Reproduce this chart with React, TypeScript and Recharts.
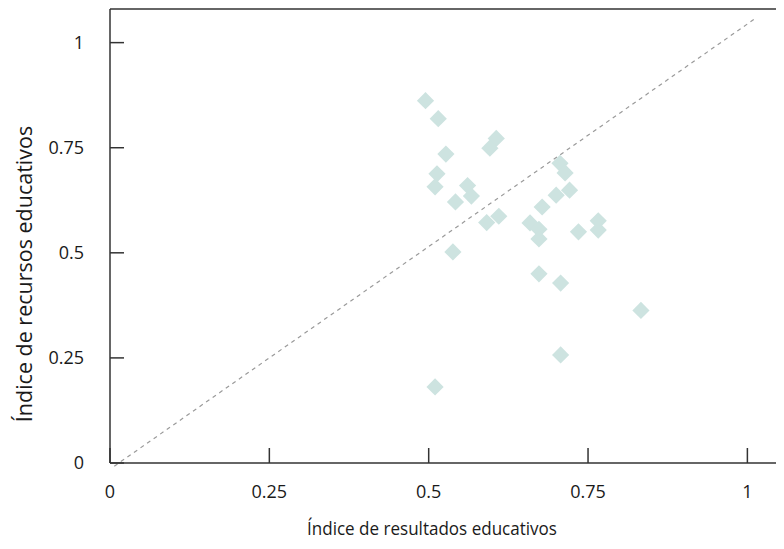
import { ScatterChart, Scatter, XAxis, YAxis, ReferenceLine } from 'recharts';

// Índice de resultados educativos (eje X) y de recursos educativos (eje Y)
const resultados = [
  0.495, 0.515, 0.527, 0.513, 0.51, 0.542, 0.561, 0.567, 0.606, 0.596, 0.591, 0.61, 0.538,
  0.706, 0.714, 0.721, 0.7, 0.678, 0.659, 0.673, 0.673, 0.735, 0.766, 0.766, 0.673, 0.707,
  0.833, 0.707, 0.51,
];
const recursos = [
  0.862, 0.819, 0.735, 0.688, 0.657, 0.621, 0.66, 0.635, 0.772, 0.749, 0.572, 0.587, 0.502,
  0.713, 0.69, 0.649, 0.637, 0.609, 0.571, 0.556, 0.533, 0.55, 0.576, 0.554, 0.45, 0.428,
  0.363, 0.257, 0.181,
];
const ticksX = [0, 0.25, 0.5, 0.75, 1];
const ticksY = [0, 0.25, 0.5, 0.75, 1];
// línea de referencia discontinua
const diagonal = [
  { x: 0.0067, y: -0.0076 },
  { x: 1.011, y: 1.056 },
];

const puntos = resultados.map((x, i) => ({ x, y: recursos[i] }));

const FUENTE = '"Open Sans", sans-serif';
const EJE = '#333333';
const TEXTO = '#1a1a1a';

function Rombo(props: any) {
  const { cx, cy } = props;
  const r = 8.6;
  return (
    <polygon
      points={`${cx},${cy - r} ${cx + r},${cy} ${cx},${cy + r} ${cx - r},${cy}`}
      fill="#cde3e0"
    />
  );
}

export default function App() {
  // el gráfico sigue hasta el borde derecho de la página
  return (
    <div style={{ fontFamily: FUENTE, width: 776, overflow: 'hidden' }}>
      <ScatterChart width={784} height={541} margin={{ top: 0, right: 0, bottom: 0, left: 0 }}>
        <XAxis
          type="number"
          dataKey="x"
          domain={[0, 1.07]}
          ticks={ticksX}
          allowDataOverflow
          height={86}
          axisLine={{ stroke: EJE, strokeWidth: 1.5 }}
          tickLine={{ stroke: EJE, strokeWidth: 1.5 }}
          tickSize={-15}
          tickMargin={37}
          tick={{ fill: TEXTO, fontSize: 18, fontFamily: FUENTE }}
          label={() => (
            <text
              x={424}
              y={520}
              textAnchor="middle"
              dominantBaseline="central"
              fill={TEXTO}
              fontSize={19}
              fontFamily={FUENTE}
              textLength={250}
              lengthAdjust="spacingAndGlyphs"
            >
              Índice de resultados educativos
            </text>
          )}
        />
        <XAxis
          xAxisId="top"
          orientation="top"
          type="number"
          domain={[0, 1.07]}
          height={1}
          tick={false}
          tickLine={false}
          axisLine={{ stroke: EJE, strokeWidth: 1.5 }}
        />
        <YAxis
          type="number"
          dataKey="y"
          domain={[0, 1.08]}
          ticks={ticksY}
          allowDataOverflow
          width={102}
          axisLine={{ stroke: EJE, strokeWidth: 1.5 }}
          tickLine={{ stroke: EJE, strokeWidth: 1.5 }}
          tickSize={-14}
          tickMargin={40}
          tick={{ fill: TEXTO, fontSize: 18, fontFamily: FUENTE }}
          label={() => (
            <text
              x={15}
              y={266}
              transform="rotate(-90 15 266)"
              textAnchor="middle"
              dominantBaseline="central"
              fill={TEXTO}
              fontSize={21.5}
              fontFamily={FUENTE}
            >
              Índice de recursos educativos
            </text>
          )}
        />
        <ReferenceLine
          segment={diagonal}
          ifOverflow="visible"
          stroke="#9a9a9a"
          strokeWidth={1.2}
          strokeDasharray="4 4"
        />
        <Scatter data={puntos} shape={<Rombo />} isAnimationActive={false} />
      </ScatterChart>
    </div>
  );
}
